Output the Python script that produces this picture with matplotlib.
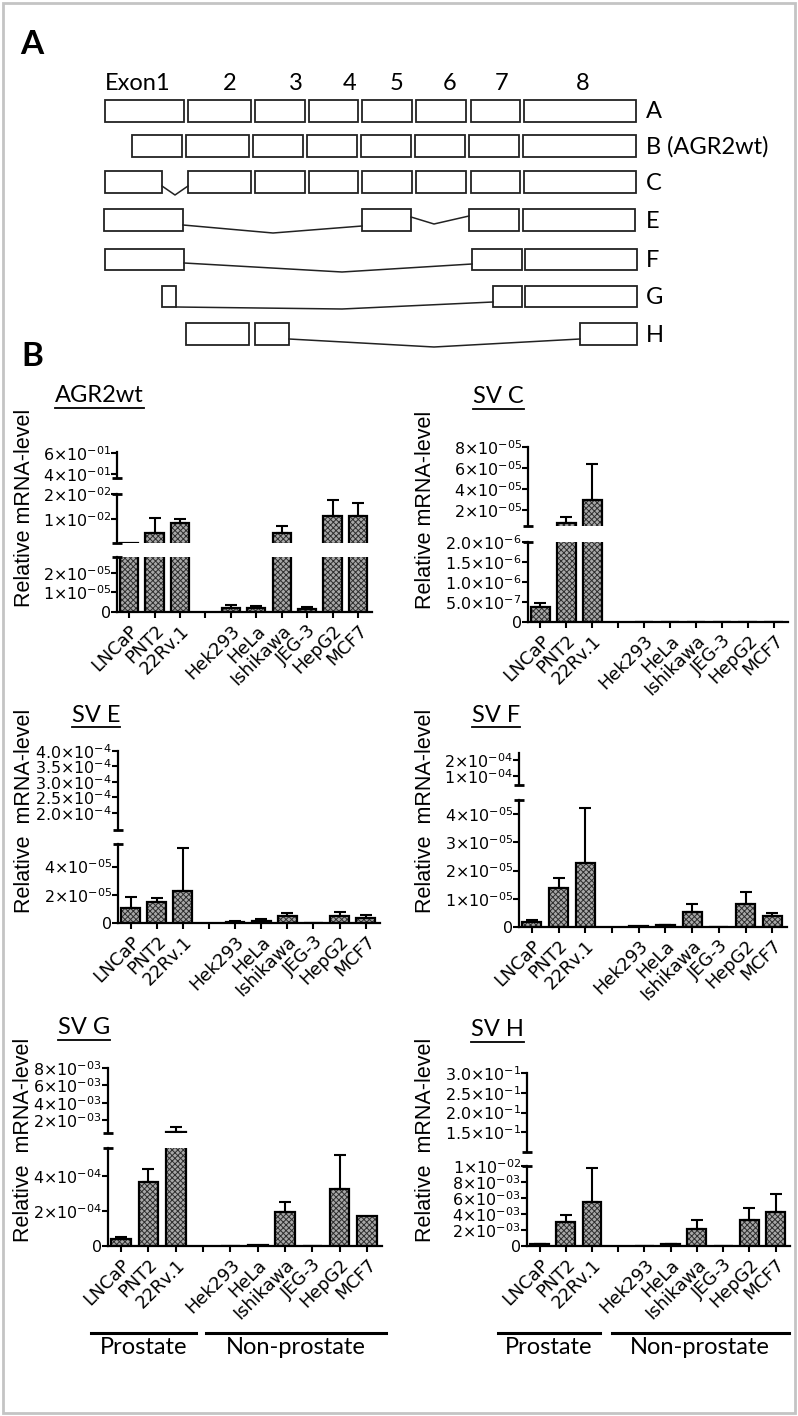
import numpy as np
import matplotlib
matplotlib.use("Agg")
import matplotlib.pyplot as plt
import matplotlib.transforms as mtransforms
from matplotlib.patches import Rectangle
from matplotlib.lines import Line2D

plt.rcParams["font.family"] = ["Liberation Sans", "DejaVu Sans"]
plt.rcParams["mathtext.fontset"] = "dejavusans"
plt.rcParams["mathtext.default"] = "regular"
plt.rcParams["hatch.linewidth"] = 0.7

W, H = 798, 1416
NAN = np.nan
DIAGRAM_FONT = ["Lato", "DejaVu Sans"]
TICK_FONT = "DejaVu Sans"

# Datos
CELL_LINES = ["LNCaP", "PNT2", "22Rv.1", "", "Hek293", "HeLa", "Ishikawa", "JEG-3", "HepG2", "MCF7"]

AGR2WT_VALUES = [4.6e-4, 4.4e-3, 8.4e-3, NAN, 2.0e-6, 2.0e-6, 4.4e-3, 1.5e-6, 1.12e-2, 1.12e-2]
AGR2WT_ERRORS = [0, 6.0e-3, 1.6e-3, NAN, 1.8e-6, 1.2e-6, 2.8e-3, 1.2e-6, 6.4e-3, 5.2e-3]
AGR2WT_LIMITS = [(0, 2.8e-5), (4e-4, 2e-2), (3.6e-1, 6.1e-1)]
AGR2WT_TICKS = [[0, 1e-5, 2e-5], [1e-2, 2e-2], [4e-1, 6e-1]]
AGR2WT_LABELS = [["0", "$1×10^{-05}$", "$2×10^{-05}$"],
                 ["$1×10^{-02}$", "$2×10^{-02}$"],
                 ["$4×10^{-01}$", "$6×10^{-01}$"]]

SVC_VALUES = [3.75e-7, 7.6e-6, 3.0e-5, NAN, 0, 0, 0, 0, 0, 0]
SVC_ERRORS = [1.0e-7, 5.7e-6, 3.4e-5, NAN, 0, 0, 0, 0, 0, 0]
SVC_LIMITS = [(0, 2e-6), (5e-6, 8e-5)]
SVC_TICKS = [[0, 5e-7, 1e-6, 1.5e-6, 2e-6], [2e-5, 4e-5, 6e-5, 8e-5]]
SVC_LABELS = [["0", "$5.0×10^{-7}$", "$1.0×10^{-6}$", "$1.5×10^{-6}$", "$2.0×10^{-6}$"],
              ["$2×10^{-05}$", "$4×10^{-05}$", "$6×10^{-05}$", "$8×10^{-05}$"]]

SVE_VALUES = [1.07e-5, 1.5e-5, 2.3e-5, NAN, 1.0e-6, 1.6e-6, 5.0e-6, 0, 5.0e-6, 3.8e-6]
SVE_ERRORS = [0.8e-5, 0.29e-5, 3.0e-5, NAN, 0.3e-6, 1.4e-6, 2.4e-6, 0, 3.0e-6, 1.9e-6]
SVE_LIMITS = [(0, 5.6e-5), (1.45e-4, 4e-4)]
SVE_TICKS = [[0, 2e-5, 4e-5], [2e-4, 2.5e-4, 3e-4, 3.5e-4, 4e-4]]
SVE_LABELS = [["0", "$2×10^{-05}$", "$4×10^{-05}$"],
              ["$2.0×10^{-4}$", "$2.5×10^{-4}$", "$3.0×10^{-4}$", "$3.5×10^{-4}$", "$4.0×10^{-4}$"]]

SVF_VALUES = [1.7e-6, 1.37e-5, 2.28e-5, NAN, 2e-7, 6e-7, 5.4e-6, 0, 8.0e-6, 3.9e-6]
SVF_ERRORS = [0.8e-6, 0.36e-5, 1.92e-5, NAN, 0, 0.2e-6, 2.6e-6, 0, 4.5e-6, 1.2e-6]
SVF_LIMITS = [(0, 4.5e-5), (4.5e-5, 2.44e-4)]
SVF_TICKS = [[0, 1e-5, 2e-5, 3e-5, 4e-5], [1e-4, 2e-4]]
SVF_LABELS = [["0", "$1×10^{-05}$", "$2×10^{-05}$", "$3×10^{-05}$", "$4×10^{-05}$"],
              ["$1×10^{-04}$", "$2×10^{-04}$"]]

SVG_VALUES = [4.0e-5, 3.67e-4, 6.2e-4, NAN, 0, 5e-6, 1.92e-4, 0, 3.26e-4, 1.71e-4]
SVG_ERRORS = [1.0e-5, 0.73e-4, 6.8e-4, NAN, 0, 0, 0.58e-4, 0, 1.94e-4, 0]
SVG_LIMITS = [(0, 5.6e-4), (0.56e-3, 8e-3)]
SVG_TICKS = [[0, 2e-4, 4e-4], [2e-3, 4e-3, 6e-3, 8e-3]]
SVG_LABELS = [["0", "$2×10^{-04}$", "$4×10^{-04}$"],
              ["$2×10^{-03}$", "$4×10^{-03}$", "$6×10^{-03}$", "$8×10^{-03}$"]]

SVH_VALUES = [2.0e-4, 3.0e-3, 5.53e-3, NAN, 5e-5, 2.0e-4, 2.15e-3, 0, 3.3e-3, 4.26e-3]
SVH_ERRORS = [0.5e-4, 0.84e-3, 4.27e-3, NAN, 0, 1e-4, 1.15e-3, 0, 1.47e-3, 2.19e-3]
SVH_LIMITS = [(0, 1e-2), (1e-1, 3e-1)]
SVH_TICKS = [[0, 2e-3, 4e-3, 6e-3, 8e-3, 1e-2], [1.5e-1, 2e-1, 2.5e-1, 3e-1]]
SVH_LABELS = [["0", "$2×10^{-03}$", "$4×10^{-03}$", "$6×10^{-03}$", "$8×10^{-03}$", "$1×10^{-02}$"],
              ["$1.5×10^{-1}$", "$2.0×10^{-1}$", "$2.5×10^{-1}$", "$3.0×10^{-1}$"]]

GROUP_NAMES = ["Prostate", "Non-prostate"]
SVG_GROUP_SPANS = [(-1.1, 2.75), (3.1, 9.7)]
SVH_GROUP_SPANS = [(-1.6, 2.3), (2.75, 9.5)]

# Esquema de exones (panel A)
EXON_HEADERS = ["Exon1", "2", "3", "4", "5", "6", "7", "8"]
EXON_HEADER_X = [105, 230, 296, 350, 397, 450, 502, 583]
ISOFORM_NAMES = ["A", "B (AGR2wt)", "C", "E", "F", "G", "H"]
ISOFORM_ROWS = [(100, 122), (135, 157), (171, 193), (209, 231), (249, 270), (286, 307), (323, 345)]
ISOFORM_EXONS = [
    [(105, 184), (188, 251), (255, 305), (309, 358), (362, 412), (416, 466), (471, 520), (524, 636)],
    [(132, 182), (186, 249), (253, 303), (307, 357), (361, 411), (415, 465), (469, 519), (523, 636)],
    [(105, 162), (188, 251), (255, 305), (309, 358), (362, 412), (416, 466), (471, 520), (524, 636)],
    [(104, 183), (362, 411), (469, 519), (523, 635)],
    [(105, 184), (472, 522), (525, 637)],
    [(162, 176), (493, 522), (525, 637)],
    [(186, 249), (255, 289), (580, 637)],
]
ISOFORM_INTRONS = [
    [],
    [],
    [[(162, 186), (175, 195), (188, 186)]],
    [[(183, 225), (273, 233), (362, 226)], [(411, 217), (434, 224), (469, 216)]],
    [[(184, 263), (342, 272), (472, 264)]],
    [[(176, 307), (342, 309), (493, 302)]],
    [[(289, 339), (434, 347), (580, 339)]],
]

XLIM = (-0.48, 9.55)
BAR_WIDTH = 0.72


def figRect(x0, x1, yBottom, yTop):
    return [x0 / W, 1 - yBottom / H, (x1 - x0) / W, (yBottom - yTop) / H]


def drawBars(ax, values, errors, yMin, isBase):
    """Dibuja barras y barras de error; en segmentos superiores omite lo que queda debajo del corte."""
    x = np.arange(len(values))
    v = np.array(values, dtype=float)
    e = np.nan_to_num(np.array(errors, dtype=float))
    ok = ~np.isnan(v)
    if not isBase:
        ok = ok & (np.nan_to_num(v) > yMin)
    ax.bar(x[ok], v[ok], width=BAR_WIDTH, facecolor="#a8a8a8", edgecolor="#2e2e2e",
           linewidth=0, hatch="xxxxxx", zorder=2)
    ax.bar(x[ok], v[ok], width=BAR_WIDTH, fill=False, edgecolor="black", linewidth=1.6, zorder=3)
    withErr = ~np.isnan(v) & (e > 0)
    if not isBase:
        withErr = withErr & (np.nan_to_num(v) + e > yMin)
    if withErr.any():
        ax.errorbar(x[withErr], v[withErr], yerr=[np.zeros(withErr.sum()), e[withErr]], fmt="none",
                    ecolor="black", elinewidth=1.5, capsize=4.5, capthick=1.5, zorder=4)


def breakCap(ax, yAxes):
    ax.plot([0], [yAxes], marker="_", markersize=7, mew=2, color="black",
            transform=ax.transAxes, clip_on=False, zorder=5)


def drawPanel(fig, layout, values, errors, limits, ticks, labels):
    segments = layout["segments"]
    axes = []
    for i, ((yBottom, yTop), lim, tk, lb) in enumerate(zip(segments, limits, ticks, labels)):
        ax = fig.add_axes(figRect(layout["x0"], layout["x1"], yBottom, yTop))
        ax.patch.set_alpha(0)
        drawBars(ax, values, errors, lim[0], i == 0)
        ax.set_xlim(*XLIM)
        ax.set_ylim(*lim)
        ax.set_yticks(tk)
        ax.set_yticklabels(lb, fontfamily=TICK_FONT, fontsize=11.4)
        ax.spines["top"].set_visible(False)
        ax.spines["right"].set_visible(False)
        ax.spines["left"].set_linewidth(1.6)
        ax.tick_params(axis="y", direction="out", length=4, width=1.5, pad=0.5)
        if i == 0:
            ax.spines["bottom"].set_linewidth(1.6)
            ax.set_xticks(range(len(CELL_LINES)))
            ax.set_xticklabels(CELL_LINES, rotation=45, ha="right", rotation_mode="anchor",
                               fontfamily=TICK_FONT, fontsize=12.8)
            ax.tick_params(axis="x", direction="out", length=4, width=1.5, pad=3)
            breakCap(ax, 1)
        else:
            ax.spines["bottom"].set_visible(False)
            ax.tick_params(axis="x", bottom=False, labelbottom=False)
            breakCap(ax, 0)
            if i < len(segments) - 1:
                breakCap(ax, 1)
        axes.append(ax)

    # titulo subrayado y etiqueta del eje y
    tx, ty = layout["title_xy"]
    title = fig.text(tx / W, 1 - ty / H, layout["title"], ha="left", va="center",
                     fontsize=17, family=DIAGRAM_FONT)
    lx, ly = layout["ylabel_xy"]
    fig.text(lx / W, 1 - ly / H, layout["ylabel"], rotation=90, ha="center", va="center", fontsize=15.5)
    return axes, title


def drawGroups(fig, ax, spans):
    trans = mtransforms.blended_transform_factory(ax.transData, fig.transFigure)
    for name, (a, b) in zip(GROUP_NAMES, spans):
        fig.add_artist(Line2D([a, b], [1 - 1333 / H, 1 - 1333 / H], color="black", lw=2.2, transform=trans))
        fig.text((a + b) / 2, 1 - 1347 / H, name, transform=trans, ha="center", va="center",
                 fontsize=17, family=DIAGRAM_FONT)


def drawDiagram(fig):
    ax = fig.add_axes([0, 0, 1, 1], zorder=-1)
    ax.set_xlim(0, W)
    ax.set_ylim(H, 0)
    ax.axis("off")
    ax.add_patch(Rectangle((3, 3), W - 6, H - 6, fill=False, edgecolor="#c4c4c4", lw=2))
    ax.text(20, 45, "A", fontsize=24, fontweight="bold", family=DIAGRAM_FONT, ha="left", va="center")
    ax.text(21, 357, "B", fontsize=24, fontweight="bold", family=DIAGRAM_FONT, ha="left", va="center")
    for i, (label, x) in enumerate(zip(EXON_HEADERS, EXON_HEADER_X)):
        ax.text(x, 83, label, fontsize=17, family=DIAGRAM_FONT, ha="left" if i == 0 else "center", va="center")
    for name, (yTop, yBottom), exons, introns in zip(ISOFORM_NAMES, ISOFORM_ROWS, ISOFORM_EXONS, ISOFORM_INTRONS):
        for x0, x1 in exons:
            ax.add_patch(Rectangle((x0, yTop), x1 - x0, yBottom - yTop, facecolor="white",
                                   edgecolor="#222222", lw=1.3))
        for path in introns:
            xs, ys = zip(*path)
            ax.plot(xs, ys, color="#222222", lw=1.1)
        ax.text(646, (yTop + yBottom) / 2 + 1, name, fontsize=17, family=DIAGRAM_FONT, ha="left", va="center")


fig = plt.figure(figsize=(W / 100, H / 100), dpi=100, facecolor="white")
drawDiagram(fig)

PANELS = [
    (dict(x0=117, x1=372, segments=[(612, 557), (543, 494), (478, 452)], title="AGR2wt",
          title_xy=(55, 396), ylabel="Relative mRNA-level", ylabel_xy=(25, 508)),
     AGR2WT_VALUES, AGR2WT_ERRORS, AGR2WT_LIMITS, AGR2WT_TICKS, AGR2WT_LABELS),
    (dict(x0=528, x1=788, segments=[(622, 542), (526, 447)], title="SV C",
          title_xy=(473, 397), ylabel="Relative mRNA-level", ylabel_xy=(425, 510)),
     SVC_VALUES, SVC_ERRORS, SVC_LIMITS, SVC_TICKS, SVC_LABELS),
    (dict(x0=118, x1=380, segments=[(923, 844), (830, 751)], title="SV E",
          title_xy=(72, 715), ylabel="Relative  mRNA-level", ylabel_xy=(25, 811)),
     SVE_VALUES, SVE_ERRORS, SVE_LIMITS, SVE_TICKS, SVE_LABELS),
    (dict(x0=519, x1=787, segments=[(927, 800), (785, 753)], title="SV F",
          title_xy=(472, 715), ylabel="Relative  mRNA-level", ylabel_xy=(425, 811)),
     SVF_VALUES, SVF_ERRORS, SVF_LIMITS, SVF_TICKS, SVF_LABELS),
    (dict(x0=108, x1=382, segments=[(1246, 1148), (1133, 1068)], title="SV G",
          title_xy=(58, 1028), ylabel="Relative  mRNA-level", ylabel_xy=(24, 1140)),
     SVG_VALUES, SVG_ERRORS, SVG_LIMITS, SVG_TICKS, SVG_LABELS),
    (dict(x0=527, x1=790, segments=[(1246, 1166), (1152, 1073)], title="SV H",
          title_xy=(471, 1030), ylabel="Relative  mRNA-level", ylabel_xy=(425, 1140)),
     SVH_VALUES, SVH_ERRORS, SVH_LIMITS, SVH_TICKS, SVH_LABELS),
]

titles = []
panelAxes = []
for layout, values, errors, limits, ticks, labels in PANELS:
    axes, title = drawPanel(fig, layout, values, errors, limits, ticks, labels)
    titles.append(title)
    panelAxes.append(axes)

drawGroups(fig, panelAxes[4][0], SVG_GROUP_SPANS)
drawGroups(fig, panelAxes[5][0], SVH_GROUP_SPANS)

# subrayar titulos
fig.canvas.draw()
renderer = fig.canvas.get_renderer()
for t in titles:
    bb = t.get_window_extent(renderer).transformed(fig.transFigure.inverted())
    yLine = bb.y0 - 1.5 / H
    fig.add_artist(Line2D([bb.x0, bb.x1], [yLine, yLine], color="black", lw=1.3, transform=fig.transFigure))

fig.savefig("out.png", dpi=100, facecolor="white")
